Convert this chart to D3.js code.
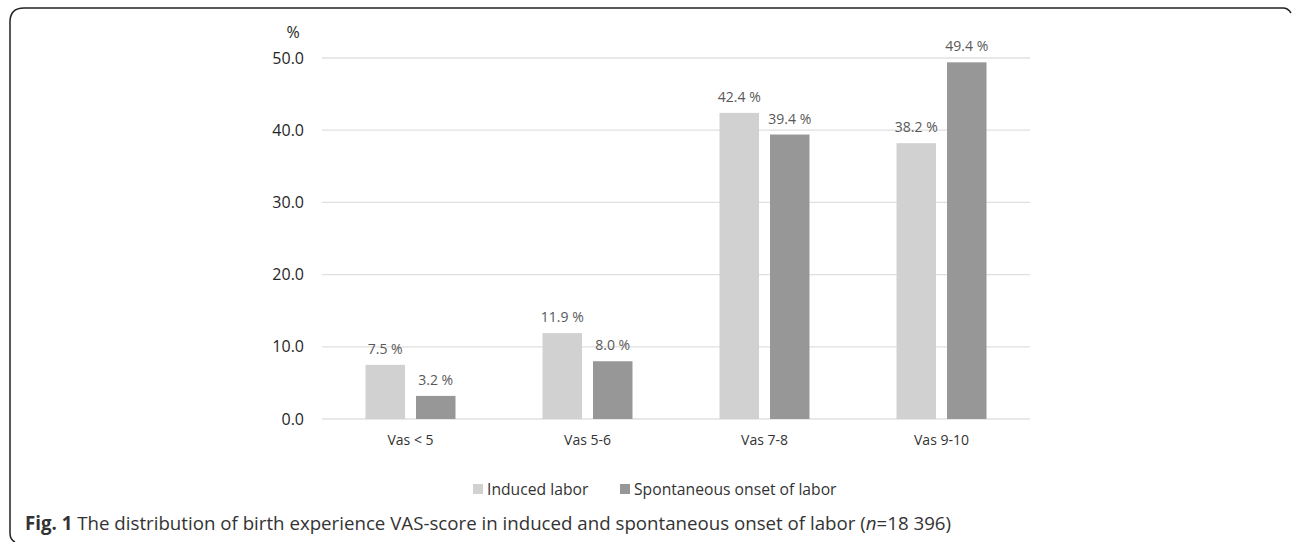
<!DOCTYPE html>
<html>
<head>
<meta charset="utf-8">
<script src="https://cdn.jsdelivr.net/npm/d3@7"></script>
<style>
body{margin:0;background:#fff;}
text{font-family:"Open Sans","Noto Sans",sans-serif;}
</style>
</head>
<body>
<div id="container"></div>
<script>
var categories=['Vas < 5','Vas 5-6','Vas 7-8','Vas 9-10'];
var seriesNames=['Induced labor','Spontaneous onset of labor'];
var induced=[7.5,11.9,42.4,38.2];
var spontaneous=[3.2,8.0,39.4,49.4];
var yTicks=[0,10,20,30,40,50];
var colors=['#d0d1d0','#979797'];

var width=1292;
var height=542;
var svg=d3.select('#container')
    .append('svg')
    .attr('width',width)
    .attr('height',height);

// frame
svg.append('path')
    .attr('d','M15,542 Q10,540 10,533 L10,22 Q10,8 24,8 L1283,8 Q1288,8 1291,13')
    .attr('fill','none')
    .attr('stroke','#222')
    .attr('stroke-width',1.5);

var xScale=d3.scaleBand()
    .domain(categories)
    .range([322,1030]);

var yScale=d3.scaleLinear()
    .domain([0,50])
    .range([419,58]);

var barW=39.5, gap=11;

// gridlines
svg.selectAll('.grid')
    .data(yTicks)
    .enter()
    .append('line')
    .attr('x1',322).attr('x2',1030)
    .attr('y1',d=>yScale(d)).attr('y2',d=>yScale(d))
    .attr('stroke','#e0e0e0')
    .attr('stroke-width',1.3);

var y_axis=d3.axisLeft(yScale)
    .tickValues(yTicks)
    .tickFormat(d3.format('.1f'))
    .tickSize(0)
    .tickPadding(18);

var ya=svg.append('g')
    .attr('transform','translate(322,0)')
    .call(y_axis);
ya.select('.domain').remove();
ya.selectAll('text')
    .attr('font-size',16)
    .attr('fill','#262626')
    .attr('font-family','"Open Sans",sans-serif');

svg.append('text')
    .text('%')
    .attr('x',293).attr('y',38)
    .attr('text-anchor','middle')
    .attr('font-size',16)
    .attr('fill','#262626');

var x_axis=d3.axisBottom(xScale).tickSize(0).tickPadding(16);
var xa=svg.append('g')
    .attr('transform','translate(0,419)')
    .call(x_axis);
xa.select('.domain').remove();
xa.selectAll('text')
    .attr('font-size',14)
    .attr('fill','#333')
    .attr('font-family','"Open Sans",sans-serif');

var series=[induced,spontaneous];
series.forEach(function(vals,s){
    var g=svg.append('g');
    var xpos=function(i){
        var c=xScale(categories[i])+xScale.bandwidth()/2;
        return s===0 ? c-gap/2-barW : c+gap/2;
    };
    g.selectAll('rect')
        .data(vals)
        .enter()
        .append('rect')
        .attr('x',(d,i)=>xpos(i))
        .attr('width',barW)
        .attr('y',d=>yScale(d))
        .attr('height',d=>yScale(0)-yScale(d))
        .attr('fill',colors[s]);
    g.selectAll('text')
        .data(vals)
        .enter()
        .append('text')
        .text(d=>d.toFixed(1)+' %')
        .attr('x',(d,i)=>xpos(i)+barW/2)
        .attr('y',d=>yScale(d)-11)
        .attr('text-anchor','middle')
        .attr('font-size',14)
        .attr('fill','#595959');
});

// legend
var legX=[473,620];
seriesNames.forEach(function(n,i){
    svg.append('rect')
        .attr('x',legX[i]).attr('y',484)
        .attr('width',10).attr('height',10)
        .attr('fill',colors[i]);
    svg.append('text')
        .text(n)
        .attr('x',legX[i]+14).attr('y',495)
        .attr('font-size',15.7)
        .attr('fill','#333');
});

// caption
var cap=svg.append('text')
    .attr('x',25).attr('y',530)
    .attr('font-size',18.7)
    .attr('fill','#333');
cap.append('tspan').attr('font-weight','bold').text('Fig. 1');
cap.append('tspan').text(' The distribution of birth experience VAS-score in induced and spontaneous onset of labor (');
cap.append('tspan').attr('font-style','italic').text('n');
cap.append('tspan').text('=18 396)');
</script>
</body>
</html>
